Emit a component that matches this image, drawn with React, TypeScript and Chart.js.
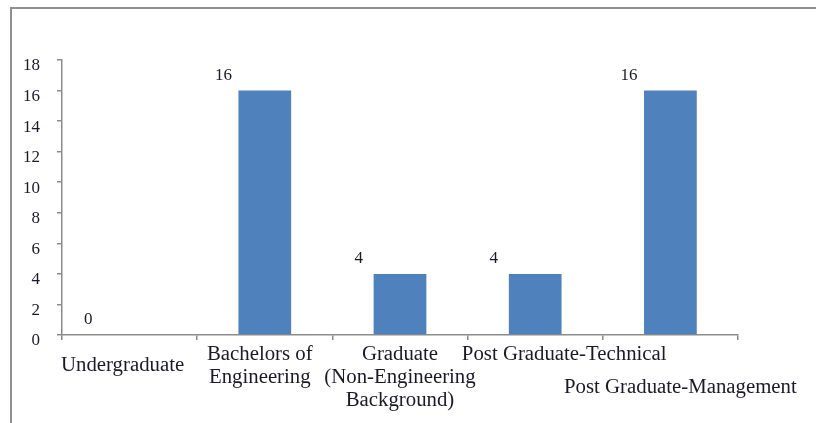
import React, { useEffect, useRef } from "react";
import { Chart, registerables } from "chart.js";

Chart.register(...registerables);

const categories: string[][] = [
  ["Undergraduate"],
  ["Bachelors of", "Engineering"],
  ["Graduate", "(Non-Engineering", "Background)"],
  ["Post Graduate-Technical"],
  ["Post Graduate-Management"],
];
const values: number[] = [0, 16, 4, 4, 16];
const yMin = 0;
const yMax = 18;
const yStep = 2;

// staggered label placement (Excel-like), relative to category centre
const labelShiftX: number[] = [-7, -5, 0, 29, 10];
const labelBaseline: number[] = [371, 360, 360, 360, 393];

const TEXT = "#1a1a2a";
const AXIS = "#8c8c8c";
const BAR = "#4f81bd";
const SERIF = "'Liberation Serif', 'Times New Roman', serif";

const framePlugin = {
  id: "frame",
  beforeDraw(chart: any) {
    const ctx = chart.ctx;
    ctx.save();
    ctx.fillStyle = "#ffffff";
    ctx.fillRect(0, 0, chart.width, chart.height);
    ctx.strokeStyle = "#909090";
    ctx.lineWidth = 2;
    ctx.beginPath();
    ctx.moveTo(chart.width, 8);
    ctx.lineTo(11, 8);
    ctx.lineTo(11, chart.height);
    ctx.stroke();
    ctx.restore();
  },
};

const labelsPlugin = {
  id: "customLabels",
  afterDraw(chart: any) {
    const ctx = chart.ctx;
    const xs = chart.scales.x;
    const meta = chart.getDatasetMeta(0);
    ctx.save();
    ctx.fillStyle = TEXT;
    // category labels
    ctx.font = `20.8px ${SERIF}`;
    ctx.textAlign = "center";
    ctx.textBaseline = "alphabetic";
    categories.forEach((lines, i) => {
      const cx = xs.getPixelForValue(i) + labelShiftX[i];
      lines.forEach((ln, j) => {
        ctx.fillText(ln, cx, labelBaseline[i] + j * 23);
      });
    });
    // value labels
    ctx.font = `17px ${SERIF}`;
    meta.data.forEach((bar: any, i: number) => {
      const p = bar.getProps(["x", "y", "width"], true);
      ctx.fillText(String(values[i]), p.x - p.width / 2 - 15, p.y - 11);
    });
    ctx.restore();
  },
};

export default function App() {
  const ref = useRef<HTMLCanvasElement>(null);
  useEffect(() => {
    if (!ref.current) return;
    const chart = new Chart(ref.current, {
      type: "bar",
      data: {
        labels: categories.map((c) => c.join(" ")),
        datasets: [
          {
            data: values,
            backgroundColor: BAR,
            borderWidth: 0,
            barPercentage: 0.39,
            categoryPercentage: 1,
          },
        ],
      },
      plugins: [framePlugin, labelsPlugin],
      options: {
        responsive: false,
        animation: false,
        layout: { padding: { left: 0, right: 78, top: 60, bottom: 78 } },
        plugins: {
          legend: { display: false },
          tooltip: { enabled: false },
        },
        scales: {
          x: {
            ticks: { display: false },
            grid: {
              offset: true,
              drawOnChartArea: false,
              drawTicks: true,
              tickLength: 5,
              color: AXIS,
              lineWidth: 1.5,
            },
            border: { color: AXIS, width: 1.5 },
            afterFit(scale: any) {
              scale.height = 10;
            },
          },
          y: {
            min: yMin,
            max: yMax,
            ticks: {
              stepSize: yStep,
              color: TEXT,
              padding: 17,
              labelOffset: 6,
              font: { family: SERIF, size: 17 },
            },
            grid: {
              drawOnChartArea: false,
              drawTicks: true,
              tickLength: 5,
              color: AXIS,
              lineWidth: 1.5,
            },
            border: { color: AXIS, width: 1.5 },
            afterFit(scale: any) {
              scale.width = 62;
            },
          },
        },
      },
    });
    return () => chart.destroy();
  }, []);
  return (
    <div style={{ position: "absolute", left: 0, top: 0, width: 816, height: 423 }}>
      <canvas ref={ref} width={816} height={423} style={{ display: "block" }} />
    </div>
  );
}
